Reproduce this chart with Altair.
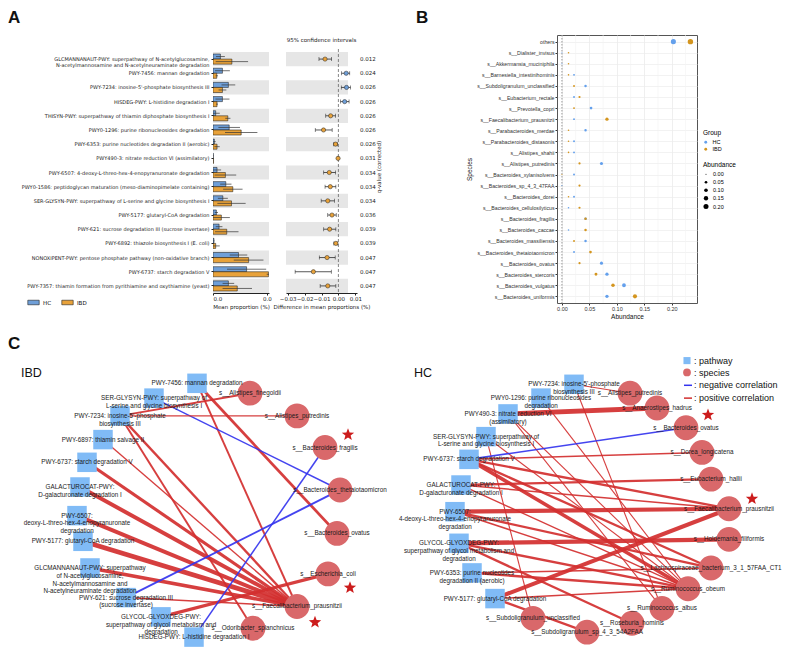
import math
import altair as alt
import pandas as pd

# ======================= Panel A data =======================
pathways = [
    "GLCMANNANAUT-PWY: superpathway of N-acetylglucosamine,|N-acetylmannosamine and N-acetylneuraminate degradation",
    "PWY-7456: mannan degradation",
    "PWY-7234: inosine-5'-phosphate biosynthesis III",
    "HISDEG-PWY: L-histidine degradation I",
    "THISYN-PWY: superpathway of thiamin diphosphate biosynthesis I",
    "PWY0-1296: purine ribonucleosides degradation",
    "PWY-6353: purine nucleotides degradation II (aerobic)",
    "PWY490-3: nitrate reduction VI (assimilatory)",
    "PWY-6507: 4-deoxy-L-threo-hex-4-enopyranuronate degradation",
    "PWY0-1586: peptidoglycan maturation (meso-diaminopimelate containing)",
    "SER-GLYSYN-PWY: superpathway of L-serine and glycine biosynthesis I",
    "PWY-5177: glutaryl-CoA degradation",
    "PWY-621: sucrose degradation III (sucrose invertase)",
    "PWY-6892: thiazole biosynthesis I (E. coli)",
    "NONOXIPENT-PWY: pentose phosphate pathway (non-oxidative branch)",
    "PWY-6737: starch degradation V",
    "PWY-7357: thiamin formation from pyrithiamine and oxythiamine (yeast)",
]
hc_mean = [0.0055, 0.0070, 0.0114, 0.0070, 0.0020, 0.0120, 0.0010, 0.0002, 0.0030,
           0.0095, 0.0073, 0.0025, 0.0045, 0.0007, 0.0189, 0.0249, 0.0114]
hc_upper = [0.0088, 0.0125, 0.0165, 0.0122, 0.0050, 0.0200, 0.0020, 0.0004, 0.0060,
            0.0137, 0.0110, 0.0037, 0.0070, 0.0011, 0.0254, 0.0394, 0.0157]
ibd_mean = [0.0140, 0.0028, 0.0070, 0.0030, 0.0110, 0.0209, 0.0030, 0.0004, 0.0092,
            0.0147, 0.0137, 0.0062, 0.0102, 0.0020, 0.0264, 0.0411, 0.0180]
ibd_upper = [0.0260, 0.0037, 0.0099, 0.0037, 0.0129, 0.0329, 0.0050, 0.0005, 0.0172,
             0.0219, 0.0242, 0.0125, 0.0189, 0.0050, 0.0374, 0.0424, 0.0289]
diff_est = [-0.0079, 0.0046, 0.0048, 0.0037, -0.0046, -0.0088, -0.0017, -0.0002, -0.0054,
            -0.0048, -0.0063, -0.0038, -0.0052, -0.0015, -0.0067, -0.0148, -0.0063]
diff_low = [-0.0115, 0.0019, 0.0017, 0.0013, -0.0075, -0.0137, -0.0029, -0.0006, -0.0087,
            -0.0079, -0.0102, -0.0063, -0.0087, -0.0027, -0.0113, -0.0256, -0.0108]
diff_high = [-0.0040, 0.0067, 0.0071, 0.0063, -0.0017, -0.0037, -0.0006, 0.0002, -0.0017,
             -0.0015, -0.0023, -0.0013, -0.0015, -0.0004, -0.0019, -0.0042, -0.0015]
q_values = ["0.012", "0.024", "0.026", "0.026", "0.026", "0.026", "0.026", "0.031", "0.034",
            "0.034", "0.034", "0.036", "0.039", "0.039", "0.047", "0.047", "0.047"]
groups = ["HC", "IBD"]
mean_ticks = [0.0, 0.04]
diff_ticks = [-0.03, -0.02, -0.01, 0.0, 0.01]

# ======================= Panel B data =======================
species = [
    "others", "s__Dialister_invisus", "s__Akkermansia_muciniphila",
    "s__Barnesiella_intestinihominis", "s__Subdoligranulum_unclassified",
    "s__Eubacterium_rectale", "s__Prevotella_copri", "s__Faecalibacterium_prausnitzii",
    "s__Parabacteroides_merdae", "s__Parabacteroides_distasonis", "s__Alistipes_shahii",
    "s__Alistipes_putredinis", "s__Bacteroides_xylanisolvens", "s__Bacteroides_sp_4_3_47FAA",
    "s__Bacteroides_dorei", "s__Bacteroides_cellulosilyticus", "s__Bacteroides_fragilis",
    "s__Bacteroides_caccae", "s__Bacteroides_massiliensis", "s__Bacteroides_thetaiotaomicron",
    "s__Bacteroides_ovatus", "s__Bacteroides_stercoris", "s__Bacteroides_vulgatus",
    "s__Bacteroides_uniformis",
]
hc_abund = [0.203, 0.0, 0.0, 0.022, 0.043, 0.022, 0.053, 0.022, 0.043, 0.022, 0.022, 0.072,
            0.022, 0.0, 0.022, 0.012, 0.043, 0.012, 0.043, 0.022, 0.072, 0.082, 0.113, 0.082]
ibd_abund = [0.234, 0.012, 0.012, 0.012, 0.022, 0.032, 0.022, 0.082, 0.012, 0.012, 0.012, 0.032,
             0.0, 0.032, 0.012, 0.032, 0.043, 0.043, 0.022, 0.052, 0.032, 0.062, 0.093, 0.133]
abund_ticks = [0.0, 0.05, 0.10, 0.15, 0.20]
abund_minor = [0.025, 0.075, 0.125, 0.175, 0.225]

# ======================= Panel C data (network layouts) =======================
ibd_pathway_ids = ["PWY-7456", "SER-GLYSYN-PWY", "PWY-7234", "PWY-6897", "PWY-6737",
                   "GALACTUROCAT-PWY", "PWY-6507", "PWY-5177", "GLCMANNANAUT-PWY",
                   "PWY-621", "GLYCOL-GLYOXDEG-PWY", "HISDEG-PWY"]
ibd_pathway_labels = [
    "PWY-7456: mannan degradation",
    "SER-GLYSYN-PWY: superpathway of|L-serine and glycine biosynthesis I",
    "PWY-7234: inosine-5'-phosphate|biosynthesis III",
    "PWY-6897: thiamin salvage II",
    "PWY-6737: starch degradation V",
    "GALACTUROCAT-PWY:|D-galacturonate degradation I",
    "PWY-6507:|deoxy-L-threo-hex-4-enopyranuronate|degradation",
    "PWY-5177: glutaryl-CoA degradation",
    "GLCMANNANAUT-PWY: superpathway|of N-acetylglucosamine,|N-acetylmannosamine and|N-acetylneuraminate degradation",
    "PWY-621: sucrose degradation III|(sucrose invertase)",
    "GLYCOL-GLYOXDEG-PWY:|superpathway of glycol metabolism and|degradation",
    "HISDEG-PWY: L-histidine degradation I",
]
ibd_pathway_lx = [197, 154, 120, 103, 87, 80, 77, 83, 90, 126, 161, 194]
ibd_pathway_ly = [385, 400, 418, 442, 465, 490, 519, 545, 572, 602, 621.5, 642]
ibd_species = ["s__Alistipes_finegoldii", "s__Alistipes_putredinis", "s__Bacteroides_fragilis",
               "s__Bacteroides_thetaiotaomicron", "s__Bacteroides_ovatus", "s__Escherichia_coli",
               "s__Faecalibacterium_prausnitzii", "s__Odoribacter_splanchnicus"]
ibd_species_lx = [250, 297, 325, 340, 337, 328, 297, 253]
ibd_species_ly = [395, 418, 450, 493, 537, 578, 611, 633]
ibd_star_lx = [348, 350, 315]
ibd_star_ly = [437, 592, 627]
ibd_edges = [
    ("PWY-7456", "s__Bacteroides_ovatus", 0.55),
    ("PWY-7456", "s__Faecalibacterium_prausnitzii", 0.45),
    ("SER-GLYSYN-PWY", "s__Bacteroides_thetaiotaomicron", -0.40),
    ("PWY-7234", "s__Alistipes_finegoldii", 0.45),
    ("PWY-7234", "s__Alistipes_putredinis", 0.35),
    ("PWY-7234", "s__Odoribacter_splanchnicus", 0.45),
    ("PWY-7234", "s__Faecalibacterium_prausnitzii", 0.50),
    ("PWY-6897", "s__Faecalibacterium_prausnitzii", 0.38),
    ("PWY-6737", "s__Faecalibacterium_prausnitzii", 0.60),
    ("GALACTUROCAT-PWY", "s__Faecalibacterium_prausnitzii", 0.70),
    ("PWY-6507", "s__Faecalibacterium_prausnitzii", 0.70),
    ("PWY-5177", "s__Faecalibacterium_prausnitzii", 0.80),
    ("GLCMANNANAUT-PWY", "s__Faecalibacterium_prausnitzii", 0.65),
    ("PWY-621", "s__Faecalibacterium_prausnitzii", 0.40),
    ("PWY-621", "s__Bacteroides_thetaiotaomicron", -0.45),
    ("GLYCOL-GLYOXDEG-PWY", "s__Escherichia_coli", 0.60),
    ("HISDEG-PWY", "s__Bacteroides_fragilis", -0.40),
]

hc_pathway_ids = ["PWY-7234", "PWY0-1296", "PWY490-3", "SER-GLYSYN-PWY", "PWY-6737",
                  "GALACTUROCAT-PWY", "PWY-6507", "GLYCOL-GLYOXDEG-PWY", "PWY-6353", "PWY-5177"]
hc_pathway_labels = [
    "PWY-7234: inosine-5'-phosphate|biosynthesis III",
    "PWY0-1296: purine ribonucleosides|degradation",
    "PWY490-3: nitrate reduction VI|(assimilatory)",
    "SER-GLYSYN-PWY: superpathway of|L-serine and glycine biosynthesis I",
    "PWY-6737: starch degradation V",
    "GALACTUROCAT-PWY:|D-galacturonate degradation I",
    "PWY-6507:|4-deoxy-L-threo-hex-4-enopyranuronate|degradation",
    "GLYCOL-GLYOXDEG-PWY:|superpathway of glycol metabolism and|degradation",
    "PWY-6353: purine nucleotides|degradation II (aerobic)",
    "PWY-5177: glutaryl-CoA degradation",
]
hc_pathway_lx = [574, 541, 508, 486, 469, 461, 455, 459, 472, 495]
hc_pathway_ly = [386, 400, 416, 439, 462, 488, 515, 547, 577, 603]
hc_species = ["s__Alistipes_putredinis", "s__Anaerostipes_hadrus", "s__Bacteroides_ovatus",
              "s__Dorea_longicatena", "s__Eubacterium_hallii", "s__Faecalibacterium_prausnitzii",
              "s__Holdemania_filiformis", "s__Lachnospiraceae_bacterium_3_1_57FAA_CT1",
              "s__Ruminococcus_obeum", "s__Ruminococcus_albus", "s__Roseburia_hominis",
              "s__Subdoligranulum_sp_4_3_54A2FAA", "s__Subdoligranulum_unclassified"]
hc_species_lx = [630, 657, 686, 702, 711, 729, 729, 711, 688, 662, 632, 587, 533]
hc_species_ly = [395, 410, 430, 455, 482, 512, 543, 572, 593, 613, 628, 637, 623]
hc_star_lx = [708, 752]
hc_star_ly = [417, 502]
hc_edges = [
    ("PWY490-3", "s__Anaerostipes_hadrus", 0.80),
    ("PWY-7234", "s__Alistipes_putredinis", 0.35),
    ("PWY-7234", "s__Ruminococcus_albus", 0.35),
    ("PWY0-1296", "s__Ruminococcus_obeum", 0.35),
    ("PWY490-3", "s__Ruminococcus_obeum", 0.35),
    ("PWY490-3", "s__Ruminococcus_albus", 0.35),
    ("SER-GLYSYN-PWY", "s__Ruminococcus_obeum", 0.35),
    ("SER-GLYSYN-PWY", "s__Subdoligranulum_unclassified", 0.35),
    ("PWY-6737", "s__Bacteroides_ovatus", -0.40),
    ("PWY-6737", "s__Dorea_longicatena", 0.40),
    ("PWY-6737", "s__Ruminococcus_obeum", 0.65),
    ("PWY-6737", "s__Faecalibacterium_prausnitzii", 0.50),
    ("PWY-6737", "s__Lachnospiraceae_bacterium_3_1_57FAA_CT1", 0.50),
    ("GALACTUROCAT-PWY", "s__Eubacterium_hallii", 0.50),
    ("GALACTUROCAT-PWY", "s__Faecalibacterium_prausnitzii", 0.40),
    ("GALACTUROCAT-PWY", "s__Ruminococcus_obeum", 0.38),
    ("PWY-6507", "s__Faecalibacterium_prausnitzii", 0.72),
    ("PWY-6507", "s__Lachnospiraceae_bacterium_3_1_57FAA_CT1", 0.50),
    ("PWY-6507", "s__Ruminococcus_obeum", 0.40),
    ("GLYCOL-GLYOXDEG-PWY", "s__Holdemania_filiformis", 0.75),
    ("GLYCOL-GLYOXDEG-PWY", "s__Ruminococcus_obeum", 0.50),
    ("GLYCOL-GLYOXDEG-PWY", "s__Roseburia_hominis", 0.50),
    ("PWY-6353", "s__Ruminococcus_obeum", 0.50),
    ("PWY-6353", "s__Lachnospiraceae_bacterium_3_1_57FAA_CT1", 0.40),
    ("PWY-5177", "s__Faecalibacterium_prausnitzii", 0.72),
    ("PWY-5177", "s__Ruminococcus_obeum", 0.40),
    ("PWY-5177", "s__Subdoligranulum_sp_4_3_54A2FAA", 0.50),
]

# ======================= styles =======================
BLUE_A, ORANGE_A = "#6f9fd8", "#e8a23a"
BLUE_B, ORANGE_B = "#64a0ec", "#d4951e"
FA = "DejaVu Sans"
FH = "Liberation Sans"

# ======================= Panel A =======================
rowsA = []
for i, p in enumerate(pathways):
    for g, m, u in (("HC", hc_mean[i], hc_upper[i]), ("IBD", ibd_mean[i], ibd_upper[i])):
        rowsA.append({"pathway": p, "grp": g, "mean": m, "lo": max(0.0, 2 * m - u), "hi": u})
dfA = pd.DataFrame(rowsA)
dfBand = pd.DataFrame({"pathway": pathways[0::2]})
dfCI = pd.DataFrame({"pathway": pathways, "est": diff_est, "lo": diff_low, "hi": diff_high,
                     "q": q_values, "grp": ["HC" if d > 0 else "IBD" for d in diff_est]})

WA, WCI, HT = 56, 71, 268   # plot widths, shared height with panel B
ROW_TOP, ROW_BOT = 17, 258  # band range inside the taller panel
y_scale = alt.Scale(domain=pathways, range=[ROW_TOP, ROW_BOT], paddingInner=0, paddingOuter=0)
yA = alt.Y("pathway:N", scale=y_scale, sort=pathways,
           axis=alt.Axis(title=None, labelExpr="split(datum.value, '|')", labelFont=FA,
                         labelFontSize=5, labelColor="#222", labelLimit=0, labelPadding=2,
                         labelLineHeight=6, tickSize=2, tickColor="#222", domain=False))
colA = alt.Scale(domain=groups, range=[BLUE_A, ORANGE_A])
xscA = alt.Scale(domain=[0, 0.0415], nice=False, zero=True)
axA = alt.Axis(values=mean_ticks, format=".1f", title="Mean proportion (%)", labelFont=FA,
               titleFont=FA, labelFontSize=5.5, titleFontSize=5.5, titleFontWeight="normal",
               tickSize=2, labelPadding=1, titlePadding=3, grid=False, domainColor="#222",
               tickColor="#222", labelColor="#222", titleColor="#222", offset=ROW_BOT - HT)
yoff = alt.YOffset("grp:N", sort=groups, scale=alt.Scale(paddingInner=0, paddingOuter=0.4))

bandA = alt.Chart(dfBand).mark_rect(color="#e6e6e6").encode(
    y=yA, x=alt.value(0), x2=alt.value(WA))
bars = alt.Chart(dfA).mark_bar(stroke="#111", strokeWidth=0.5, clip=True).encode(
    y=yA, yOffset=yoff,
    x=alt.X("mean:Q", scale=xscA, axis=axA),
    color=alt.Color("grp:N", scale=colA, legend=alt.Legend(
        orient="none", legendX=-186, legendY=261, direction="horizontal", title=None,
        symbolType="M-1,-0.4L1,-0.4L1,0.4L-1,0.4Z", symbolSize=130, symbolStrokeColor="#222",
        symbolStrokeWidth=0.6, labelFont=FA, labelFontSize=5.5, columnPadding=9,
        labelOffset=3)))
errA = alt.Chart(dfA).mark_rule(color="#333", strokeWidth=0.7, clip=True).encode(
    y=yA, yOffset=yoff,
    x=alt.X("lo:Q", scale=xscA, axis=axA), x2="hi:Q")
letterA = alt.Chart(pd.DataFrame({"t": ["A"]})).mark_text(
    align="left", baseline="top", font=FH, fontSize=17, fontWeight="bold", color="#111").encode(
    text="t:N", x=alt.value(-205), y=alt.value(-25))
panelA1 = alt.layer(bandA, bars, errA, letterA).properties(width=WA, height=HT)

yC = alt.Y("pathway:N", scale=y_scale, sort=pathways, axis=None)
xscC = alt.Scale(domain=[-0.031, 0.011], nice=False, zero=False)
axC = alt.Axis(values=diff_ticks, format=".2f", title="Difference in mean proportions (%)",
               labelFont=FA, titleFont=FA, labelFontSize=5.5, titleFontSize=5.5,
               titleFontWeight="normal", tickSize=2, labelPadding=1, titlePadding=3, grid=False,
               domainColor="#222", tickColor="#222", labelColor="#222", titleColor="#222",
               offset=ROW_BOT - HT)
bandC = alt.Chart(dfBand).mark_rect(color="#e6e6e6").encode(
    y=yC, x=alt.value(0), x2=alt.value(62))
zeroC = alt.Chart(pd.DataFrame({"zero": [0.0]})).mark_rule(
    color="#555", strokeDash=[3, 2], strokeWidth=0.7).encode(
    x=alt.X("zero:Q", scale=xscC, axis=axC), y=alt.value(ROW_TOP - 3), y2=alt.value(ROW_BOT))
ciRule = alt.Chart(dfCI).mark_rule(color="#111", strokeWidth=0.7).encode(
    y=yC, x=alt.X("lo:Q", scale=xscC, axis=axC), x2="hi:Q")
capLo = alt.Chart(dfCI).mark_tick(color="#111", thickness=0.7, size=4).encode(
    y=yC, x=alt.X("lo:Q", scale=xscC, axis=axC))
capHi = alt.Chart(dfCI).mark_tick(color="#111", thickness=0.7, size=4).encode(
    y=yC, x=alt.X("hi:Q", scale=xscC, axis=axC))
ciPts = alt.Chart(dfCI).mark_point(filled=True, size=18, stroke="#222", strokeWidth=0.5,
                                   opacity=1).encode(
    y=yC, x=alt.X("est:Q", scale=xscC, axis=axC),
    fill=alt.Fill("grp:N", scale=colA, legend=None))
qText = alt.Chart(dfCI).mark_text(align="left", baseline="middle", font=FA, fontSize=5.5,
                                  color="#222").encode(
    y=yC, x=alt.value(WCI + 3), text="q:N")
qTitle = alt.Chart(pd.DataFrame({"t": ["q-value (corrected)"]})).mark_text(
    angle=270, align="center", baseline="middle", font=FA, fontSize=5.5, color="#222").encode(
    text="t:N", x=alt.value(WCI + 22), y=alt.value(132))
ciTitle = alt.Chart(pd.DataFrame({"t": ["95% confidence intervals"]})).mark_text(
    align="center", baseline="middle", font=FA, fontSize=5.5, color="#222").encode(
    text="t:N", x=alt.value(WCI / 2), y=alt.value(5))
panelA2 = alt.layer(bandC, zeroC, ciRule, capLo, capHi, ciPts, qText, qTitle,
                    ciTitle).properties(width=WCI, height=HT)

# ======================= Panel B =======================
dfB = pd.DataFrame({"Species": species * 2,
                    "Group": ["HC"] * len(species) + ["IBD"] * len(species),
                    "Abundance": hc_abund + ibd_abund})
WB = 140
xscB = alt.Scale(domain=[-0.009, 0.246], nice=False, zero=False)
axB = alt.Axis(values=abund_ticks, format=".2f", title="Abundance", grid=True,
               gridColor="#e8e8e8", gridWidth=0.7, labelFont=FH, titleFont=FH,
               labelFontSize=5.5, titleFontSize=6.5, titleFontWeight="normal", tickSize=2,
               labelPadding=1, titlePadding=2, labelColor="#333", titleColor="#111",
               tickColor="#333", domain=False)
yB = alt.Y("Species:N", sort=species, scale=alt.Scale(type="point", padding=0.6),
           axis=alt.Axis(title="Species", grid=True, gridColor="#ededed", gridWidth=0.7,
                         labelFont=FH, titleFont=FH, labelFontSize=5.2, titleFontSize=6.5,
                         titleFontWeight="normal", labelColor="#333", titleColor="#111",
                         tickSize=2, tickColor="#333", labelPadding=1, titlePadding=4,
                         domain=False, labelLimit=0))
minorB = alt.Chart(pd.DataFrame({"v": abund_minor})).mark_rule(
    color="#f2f2f2", strokeWidth=0.6).encode(x=alt.X("v:Q", scale=xscB, axis=axB))
zeroB = alt.Chart(pd.DataFrame({"zero": [0.0]})).mark_rule(
    color="#9a9a9a", strokeDash=[1.5, 1.5], strokeWidth=1).encode(
    x=alt.X("zero:Q", scale=xscB, axis=axB))
ptsB = alt.Chart(dfB).mark_circle(opacity=1).encode(
    x=alt.X("Abundance:Q", scale=xscB, axis=axB), y=yB,
    color=alt.Color("Group:N", scale=alt.Scale(domain=groups, range=[BLUE_B, ORANGE_B]),
                    legend=alt.Legend(orient="none", legendX=146, legendY=95, title="Group",
                                      titleFont=FH, labelFont=FH, titleFontSize=6.5,
                                      labelFontSize=5.5, titleFontWeight="normal",
                                      symbolSize=8, rowPadding=0, titlePadding=3,
                                      symbolType="circle")),
    size=alt.Size("Abundance:Q", scale=alt.Scale(domain=[0, 0.24], range=[1, 30]),
                  legend=alt.Legend(orient="none", legendX=146, legendY=127,
                                    title="Abundance", values=abund_ticks, format=".2f",
                                    titleFont=FH, labelFont=FH, titleFontSize=6.5,
                                    labelFontSize=5.5, titleFontWeight="normal",
                                    symbolFillColor="black", symbolStrokeColor="black",
                                    symbolStrokeWidth=0, rowPadding=1, titlePadding=3,
                                    symbolType="circle")))
letterB = alt.Chart(pd.DataFrame({"t": ["B"]})).mark_text(
    align="left", baseline="top", font=FH, fontSize=17, fontWeight="bold", color="#111").encode(
    text="t:N", x=alt.value(-141), y=alt.value(-25))
panelB = alt.layer(minorB, zeroB, ptsB, letterB).properties(
    width=WB, height=HT, view=alt.ViewBackground(stroke="#555", strokeWidth=1))

# ======================= Panel C =======================
def star_path():
    pts = []
    for k in range(10):
        a = math.radians(-90 + 36 * k)
        r = 1.0 if k % 2 == 0 else 0.42
        pts.append(f"{r * math.cos(a):.3f},{r * math.sin(a):.3f}")
    return "M" + "L".join(pts) + "Z"

STAR = star_path()

pw_rows, sp_rows, edge_rows, star_rows = [], [], [], []
pos = {}
for net, ids, labs, xs, ys in (("IBD", ibd_pathway_ids, ibd_pathway_labels, ibd_pathway_lx, ibd_pathway_ly),
                               ("HC", hc_pathway_ids, hc_pathway_labels, hc_pathway_lx, hc_pathway_ly)):
    for i, pid in enumerate(ids):
        pos[(net, pid)] = (xs[i], ys[i])
        pw_rows.append({"net": net, "label": labs[i], "x": xs[i], "y": ys[i]})
for net, names, xs, ys in (("IBD", ibd_species, ibd_species_lx, ibd_species_ly),
                           ("HC", hc_species, hc_species_lx, hc_species_ly)):
    for i, s in enumerate(names):
        pos[(net, s)] = (xs[i], ys[i])
        sp_rows.append({"net": net, "label": s, "x": xs[i], "y": ys[i]})
for net, edges in (("IBD", ibd_edges), ("HC", hc_edges)):
    for p, s, r in edges:
        (x1, y1), (x2, y2) = pos[(net, p)], pos[(net, s)]
        edge_rows.append({"net": net, "x": x1, "y": y1, "x2": x2, "y2": y2,
                          "r": abs(r), "sign": "negative" if r < 0 else "positive"})
for xs, ys in ((ibd_star_lx, ibd_star_ly), (hc_star_lx, hc_star_ly)):
    for a, b in zip(xs, ys):
        star_rows.append({"x": a, "y": b})
dfPw, dfSp = pd.DataFrame(pw_rows), pd.DataFrame(sp_rows)
dfEdge, dfStar = pd.DataFrame(edge_rows), pd.DataFrame(star_rows)

# plot area of C starts under panel A's plot (x=213) so the vconcat origins coincide;
# the layout extends to the left of it
WCn, HCn = 572, 316
xN = alt.Scale(domain=[213, 785], nice=False, zero=False)
yN = alt.Scale(domain=[330, 650], nice=False, zero=False, reverse=True)
X = lambda f: alt.X(f, scale=xN, axis=None)
Y = lambda f: alt.Y(f, scale=yN, axis=None)
RED, NBLUE = "#d22f2f", "#3434ee"

edgesL = alt.Chart(dfEdge).mark_rule(opacity=0.92).encode(
    x=X("x:Q"), y=Y("y:Q"), x2="x2:Q", y2="y2:Q",
    color=alt.Color("sign:N", scale=alt.Scale(domain=["negative", "positive"], range=[NBLUE, RED]),
                    legend=None),
    strokeWidth=alt.StrokeWidth("r:Q", scale=alt.Scale(domain=[0.3, 0.8], range=[0.7, 4.8]),
                                legend=None))
squares = alt.Chart(dfPw).mark_point(shape="square", filled=True, size=380, color="#80bbf6",
                                     opacity=1).encode(x=X("x:Q"), y=Y("y:Q"))
circles = alt.Chart(dfSp).mark_circle(size=616, color="#d9686a", opacity=1).encode(
    x=X("x:Q"), y=Y("y:Q"))
stars = alt.Chart(dfStar).mark_point(shape=STAR, filled=True, size=170, color="#cc1c1c",
                                     opacity=1).encode(x=X("x:Q"), y=Y("y:Q"))
pwText = alt.Chart(dfPw).mark_text(lineBreak="|", font=FH, fontSize=6.3, lineHeight=7.8,
                                   align="center", baseline="middle", color="#1a1a1a").encode(
    x=X("x:Q"), y=Y("y:Q"), text="label:N")
spText = alt.Chart(dfSp).mark_text(font=FH, fontSize=6.3, align="center", baseline="middle",
                                   color="#1a1a1a").encode(
    x=X("x:Q"), y=Y("y:Q"), text="label:N")

one = pd.DataFrame({"k": [0]})
def txt(t, x, y, size, weight="normal", align="left", baseline="middle"):
    return alt.Chart(one).mark_text(text=t, font=FH, fontSize=size, fontWeight=weight,
                                    align=align, baseline=baseline, color="#111").encode(
        x=alt.X(datum=x, scale=xN, axis=None), y=alt.Y(datum=y, scale=yN, axis=None))

titleC = txt("C", 8, 337, 17, "bold", baseline="top")
titleIBD = txt("IBD", 21, 375, 12.5)
titleHC = txt("HC", 414, 375, 12.5)
legSq = alt.Chart(one).mark_point(shape="square", filled=True, size=50, color="#80bbf6",
                                  opacity=1).encode(
    x=alt.X(datum=687, scale=xN, axis=None), y=alt.Y(datum=362, scale=yN, axis=None))
legCi = alt.Chart(one).mark_circle(size=60, color="#d9686a", opacity=1).encode(
    x=alt.X(datum=687, scale=xN, axis=None), y=alt.Y(datum=374, scale=yN, axis=None))
legNeg = alt.Chart(one).mark_rule(color=NBLUE, strokeWidth=1.5).encode(
    x=alt.X(datum=684, scale=xN, axis=None), x2=alt.X2(datum=692),
    y=alt.Y(datum=387, scale=yN, axis=None))
legPos = alt.Chart(one).mark_rule(color=RED, strokeWidth=1.5).encode(
    x=alt.X(datum=684, scale=xN, axis=None), x2=alt.X2(datum=692),
    y=alt.Y(datum=400, scale=yN, axis=None))
legT = [txt(": pathway", 694, 362, 9), txt(": species", 694, 374.5, 9),
        txt(": negative correlation", 694, 387, 9), txt(": positive correlation", 694, 400, 9)]

panelC = alt.layer(edgesL, squares, circles, stars, pwText, spText, titleC, titleIBD, titleHC,
                   legSq, legCi, legNeg, legPos, *legT).properties(width=WCn, height=HCn)

# ======================= assemble =======================
topA = alt.hconcat(panelA1, panelA2, spacing=1)
top = alt.hconcat(topA, panelB, spacing=32).resolve_scale(color="independent", size="independent")
chart = alt.vconcat(top, panelC, spacing=8, padding=0).resolve_scale(
    color="independent", size="independent", strokeWidth="independent",
    fill="independent").resolve_legend(color="independent", size="independent").configure_view(
    stroke=None)

chart.save("out.html", embed_options={"renderer": "svg", "actions": False})
